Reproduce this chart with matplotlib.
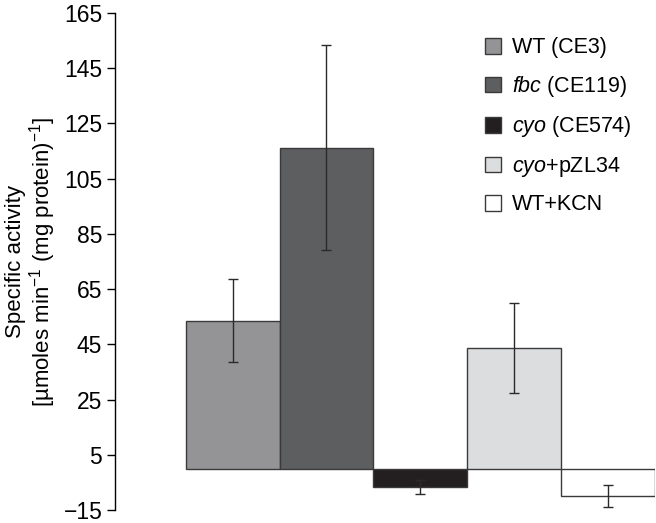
import matplotlib
matplotlib.use("Agg")
import matplotlib.pyplot as plt
from matplotlib.patches import Patch

plt.rcParams['font.family'] = ['Liberation Sans', 'DejaVu Sans']
plt.rcParams['mathtext.fontset'] = 'custom'
plt.rcParams['mathtext.rm'] = 'Liberation Sans'
plt.rcParams['mathtext.it'] = 'Liberation Sans:italic'

# data
labels = ['WT (CE3)', r'$\it{fbc}$ (CE119)', r'$\it{cyo}$ (CE574)',
          r'$\it{cyo}$+pZL34', 'WT+KCN']
values = [53.6, 116.3, -6.8, 43.5, -10.1]
errors = [15.0, 37.0, 2.5, 16.3, 4.0]
colors = ['#949497', '#5d5e60', '#231f20', '#dcdddf', '#ffffff']
yticks = list(range(-15, 166, 20))

fig = plt.figure(figsize=(6.56, 5.23), dpi=100)
ax = fig.add_axes([0.175, 0.025, 0.8235, 0.95])

x = list(range(len(values)))
ax.bar(x, values, width=1.0, color=colors, edgecolor='#3a3a3a', linewidth=1.0, zorder=2)
ax.errorbar(x, values, yerr=errors, fmt='none', ecolor='#2a2a2a',
            elinewidth=1.0, capsize=3.3, capthick=1.0, zorder=3)

ax.set_xlim(-1.255, 4.5)
ax.set_ylim(-15, 165)
ax.set_yticks(yticks)
ax.set_xticks([])
ax.tick_params(axis='y', labelsize=16.5, length=6, width=1, direction='out', pad=3)
for s in ['top', 'right', 'bottom']:
    ax.spines[s].set_visible(False)
ax.spines['left'].set_linewidth(1)

ax.set_ylabel('Specific activity\n[µmoles min$^{-1}$ (mg protein)$^{-1}$]',
              fontsize=16, linespacing=1.05, labelpad=4)

handles = [Patch(facecolor=c, edgecolor='#3a3a3a', linewidth=1.0) for c in colors]
ax.legend(handles, labels, loc='upper right', bbox_to_anchor=(0.993, 0.99),
          frameon=False, fontsize=15.5, handlelength=0.75, handleheight=0.75,
          labelspacing=0.72, handletextpad=0.5)

fig.savefig('out.png', dpi=100)
